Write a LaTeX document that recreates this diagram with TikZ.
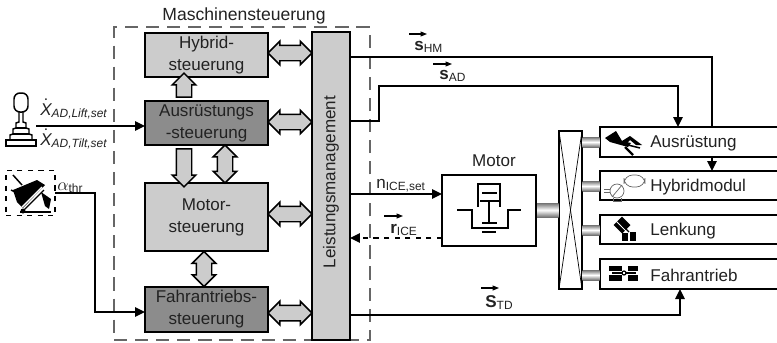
\documentclass[tikz,border=0pt]{standalone}
\usepackage{amsmath}
\usepackage{fontspec}
\setmainfont{Liberation Sans}
\usetikzlibrary{arrows.meta,shapes.arrows,calc}
\definecolor{ctrllight}{HTML}{CCCCCC}
\definecolor{ctrldark}{HTML}{8C8C8C}
\definecolor{txtgray}{HTML}{222222}
\tikzset{
  maintext/.style={font=\fontsize{9.7}{12.6}\selectfont,text=txtgray},
  ctrlbox/.style={draw,line width=0.85pt,fill=ctrllight,minimum width=2.46cm,inner sep=0pt,outer sep=0pt,align=center,maintext},
  outbox/.style={draw,line width=0.85pt,fill=white,minimum width=3.7cm,inner sep=0pt,outer sep=0pt},
  outlabel/.style={anchor=west,inner sep=0pt,maintext},
  sig/.style={line width=0.85pt,-{Triangle[length=0.2cm,width=0.19cm]}},
  vecarrow/.style={line width=0.6pt,-{Triangle[length=0.13cm,width=0.1cm]}},
  siglabel/.style={anchor=base west,inner sep=0pt,maintext},
  blockbase/.style={draw,line width=0.85pt,fill=ctrllight,inner sep=0.14cm,outer sep=0pt,minimum width=0.46cm},
  dblarrow/.style={blockbase,double arrow,double arrow head extend=0.08cm},
  snglarrow/.style={blockbase,single arrow,single arrow head extend=0.08cm},
  shaft/.style={top color=black!55,bottom color=black!55,middle color=white}
}
\begin{document}
\begin{tikzpicture}[x=0.02cm,y=-0.02cm]
\useasboundingbox (0,0) rectangle (777,342);
% Maschinensteuerung
\node[draw=black!60,line width=1.2pt,dash pattern=on 7.5pt off 4.5pt,minimum width=5.12cm,minimum height=6.26cm,inner sep=0pt] (ms) at (242,183.5) {};
\node[maintext,font=\fontsize{10}{12.6}\selectfont] (mslabel) at (244,16) {Maschinensteuerung};
\node[ctrlbox,minimum height=0.88cm] (hyb) at (206.5,55) {Hybrid-\\steuerung};
\node[ctrlbox,fill=ctrldark,minimum height=0.88cm] (aus) at (206.5,123) {Ausrüstungs\\-steuerung};
\node[ctrlbox,minimum height=1.36cm] (mot) at (206.5,217) {Motor-\\steuerung};
\node[ctrlbox,fill=ctrldark,minimum height=0.9cm] (fah) at (206.5,309.5) {Fahrantriebs-\\steuerung};
\node[ctrlbox,minimum width=0.76cm,minimum height=6.16cm] (lm) at (331,186) {};
\node[maintext,rotate=90] (lmlabel) at (331,182) {Leistungsmanagement};
% Block arrows
\node[dblarrow,minimum height=0.88cm] (a1) at (290,53) {};
\node[dblarrow,minimum height=0.88cm] (a2) at (290,122) {};
\node[dblarrow,minimum height=0.88cm] (a3) at (290,214) {};
\node[dblarrow,minimum height=0.88cm] (a4) at (290,313) {};
\node[snglarrow,shape border rotate=90,minimum height=0.48cm] (a5) at (184,89) {};
\node[snglarrow,shape border rotate=270,minimum height=0.76cm] (a6) at (184,164) {};
\node[dblarrow,shape border rotate=90,minimum height=0.76cm] (a7) at (225,164) {};
\node[dblarrow,shape border rotate=90,minimum height=0.7cm] (a8) at (204,269) {};
% Motor
\node[draw,line width=0.85pt,minimum width=1.88cm,minimum height=1.42cm,inner sep=0pt,outer sep=0pt] (motor) at (489,210.5) {};
\node[maintext] (motorlabel) at (494,161) {Motor};
\draw[line width=0.85pt] (478,207) -- (478,184) -- (500,184) -- (500,207);
\draw[line width=1.1pt] (482,193) -- (497,193);
\draw[line width=1.1pt] (480,201) -- (499,201);
\draw[line width=0.85pt] (489,201) -- (489,223);
\draw[line width=1.1pt] (482,223) -- (497,223);
\draw[line width=1.1pt] (482,232) -- (496,232);
\draw[line width=0.85pt] (457,210) -- (472,210) -- (472,228) -- (508,228) -- (508,210) -- (521,210);
% Gearbox and outputs
\node[draw,line width=0.85pt,minimum width=0.46cm,minimum height=3.16cm,inner sep=0pt,outer sep=0pt] (gear) at (570.5,210) {};
\draw[line width=0.4pt] (gear.north west) -- (gear.south east);
\draw[line width=0.4pt] (gear.north east) -- (gear.south west);
\node[outbox,minimum height=0.6cm] (oaus) at (692.5,142) {};
\node[outbox,minimum height=0.58cm] (ohyb) at (692.5,185.5) {};
\node[outbox,minimum height=0.58cm] (olen) at (692.5,229.5) {};
\node[outbox,minimum height=0.6cm] (ofah) at (692.5,274) {};
\node[outlabel] (laus) at (650,143) {Ausrüstung};
\node[outlabel] (lhyb) at (650,187) {Hybridmodul};
\node[outlabel] (llen) at (650,231) {Lenkung};
\node[outlabel] (lfah) at (650,275) {Fahrantrieb};
\shade[shaft] (537,203) rectangle (558.5,217);
\shade[shaft] (582.5,137) rectangle (599.5,147);
\shade[shaft] (582.5,181) rectangle (599.5,191);
\shade[shaft] (582.5,225) rectangle (599.5,235);
\shade[shaft] (582.5,270) rectangle (599.5,280);
% Signals
\coordinate (joyout) at (36,126);
\draw[sig] (joyout) -- (joyout -| aus.west);
\node[draw,dashed,line width=1.1pt,minimum width=0.98cm,minimum height=0.9cm,inner sep=0pt,outer sep=0pt] (ped) at (30.5,193) {};
\draw[sig] (ped.east) -- ++(40,0) |- ([yshift=-0.05cm]fah.west);
\draw[line width=0.85pt] (lm.east |- 0,57) -| (712,127);
\draw[sig] (712,157) -- (ohyb.north -| 712,0);
\draw[sig] (lm.east |- 0,121) -- (379,121) -- (379,86) -| (678,0 |- oaus.north);
\draw[sig] (lm.east |- 0,194) -- (motor.west |- 0,194);
\draw[sig,dashed] (motor.west |- 0,238) -- (lm.east |- 0,238);
\draw[sig] (lm.east |- 0,315) -| (680,0 |- ofah.south);
% Labels
\node[siglabel] (xlift) at (40,115) {$\dot{\text{\itshape X}}_{\text{\itshape AD,Lift,set}}$};
\node[siglabel] (xtilt) at (40,145) {$\dot{\text{\itshape X}}_{\text{\itshape AD,Tilt,set}}$};
\node[siglabel] (athr) at (57,190) {$\alpha_{\text{thr}}$};
\node[siglabel] (shm) at (414,50) {$\text{\bfseries s}_{\text{HM}}$};
\node[siglabel] (sad) at (439,79) {$\text{\bfseries s}_{\text{AD}}$};
\node[siglabel] (nice) at (376,188) {n$_{\text{ICE,set}}$};
\node[siglabel] (rice) at (390,233) {$\text{\bfseries r}_{\text{ICE}}$};
\node[siglabel] (std) at (485,307) {$\text{\bfseries S}_{\text{TD}}$};
\draw[vecarrow] (409,34) -- (427,34);
\draw[vecarrow] (433,64) -- (452,64);
\draw[vecarrow] (384,216) -- (403,216);
\draw[vecarrow] (481,288) -- (499,288);
% Joystick
\draw[line width=0.85pt,rounded corners=3.4pt] (14,93) rectangle (28,112);
\draw[line width=0.85pt] (19,112) -- (19,122) -- (16,123) -- (16,128) -- (13,129) -- (13,134) -- (10,135) -- (10,140);
\draw[line width=0.85pt] (23,112) -- (23,122) -- (26,123) -- (26,128) -- (29,129) -- (29,134) -- (32,135) -- (32,140);
\draw[line width=0.85pt] (16,128) -- (26,128);
\draw[line width=0.85pt] (13,134) -- (29,134);
\draw[line width=0.85pt] (6,140) rectangle (36,146);
% Pedal
\fill (13,190) -- (37,180) -- (45,185) -- (23,208) -- (17,202) -- cycle;
\draw[line width=0.85pt] (13,175) -- (22,185);
\draw[line width=0.85pt] (11,190) -- (15,192);
\draw[white,line width=0.8pt] (22,207) -- (42,187);
\draw[line width=0.7pt] (24,210) -- (44,190);
\fill (41,192) -- (51,199) -- (49,209) -- (45,206) -- cycle;
\draw[line width=1pt] (20,212) -- (51,212);
\fill (23,211) circle (2.5);
% Ausruestung icon
\fill (605,138) -- (616,131) -- (622,141) -- (631,143) -- (628,147) -- (610,142) -- cycle;
\fill (622,141) -- (630,136) -- (642,145) -- (636,145) -- (630,140) -- (625,145) -- cycle;
\draw[line width=0.85pt] (612,141) -- (640,148);
\draw[line width=1.3pt] (625,147) -- (633,155);
% Hybridmodul icon
\begin{scope}[black!60,line width=0.4pt]
\draw[rounded corners=5pt] (624,175) rectangle (645,187);
\draw (617,191) circle (7);
\draw (604,189) -- (610,189);
\draw (604,192) -- (610,192);
\draw (612,197) -- (622,185);
\draw (613,198) -- (613,201) -- (621,201) -- (621,198);
\end{scope}
% Lenkung icon
\fill[rotate around={45:(622,225)}] (616,219) rectangle (628,231);
\draw[white,line width=0.5pt] (616,221) -- (626,231);
\draw[line width=0.7pt] (622,225) -- (629,232);
\fill (622,233) rectangle (628,241);
\fill (630,232) rectangle (636,241);
% Fahrantrieb icon
\fill (609,265.5) rectangle (622,271);
\fill (628,265.5) rectangle (638,271);
\fill (609,275) rectangle (622,280.5);
\fill (628,275) rectangle (638,280.5);
\draw[line width=0.8pt] (612,273) -- (636,273);
\draw[line width=0.7pt,fill=white] (624,273) circle (2);
\end{tikzpicture}
\end{document}
